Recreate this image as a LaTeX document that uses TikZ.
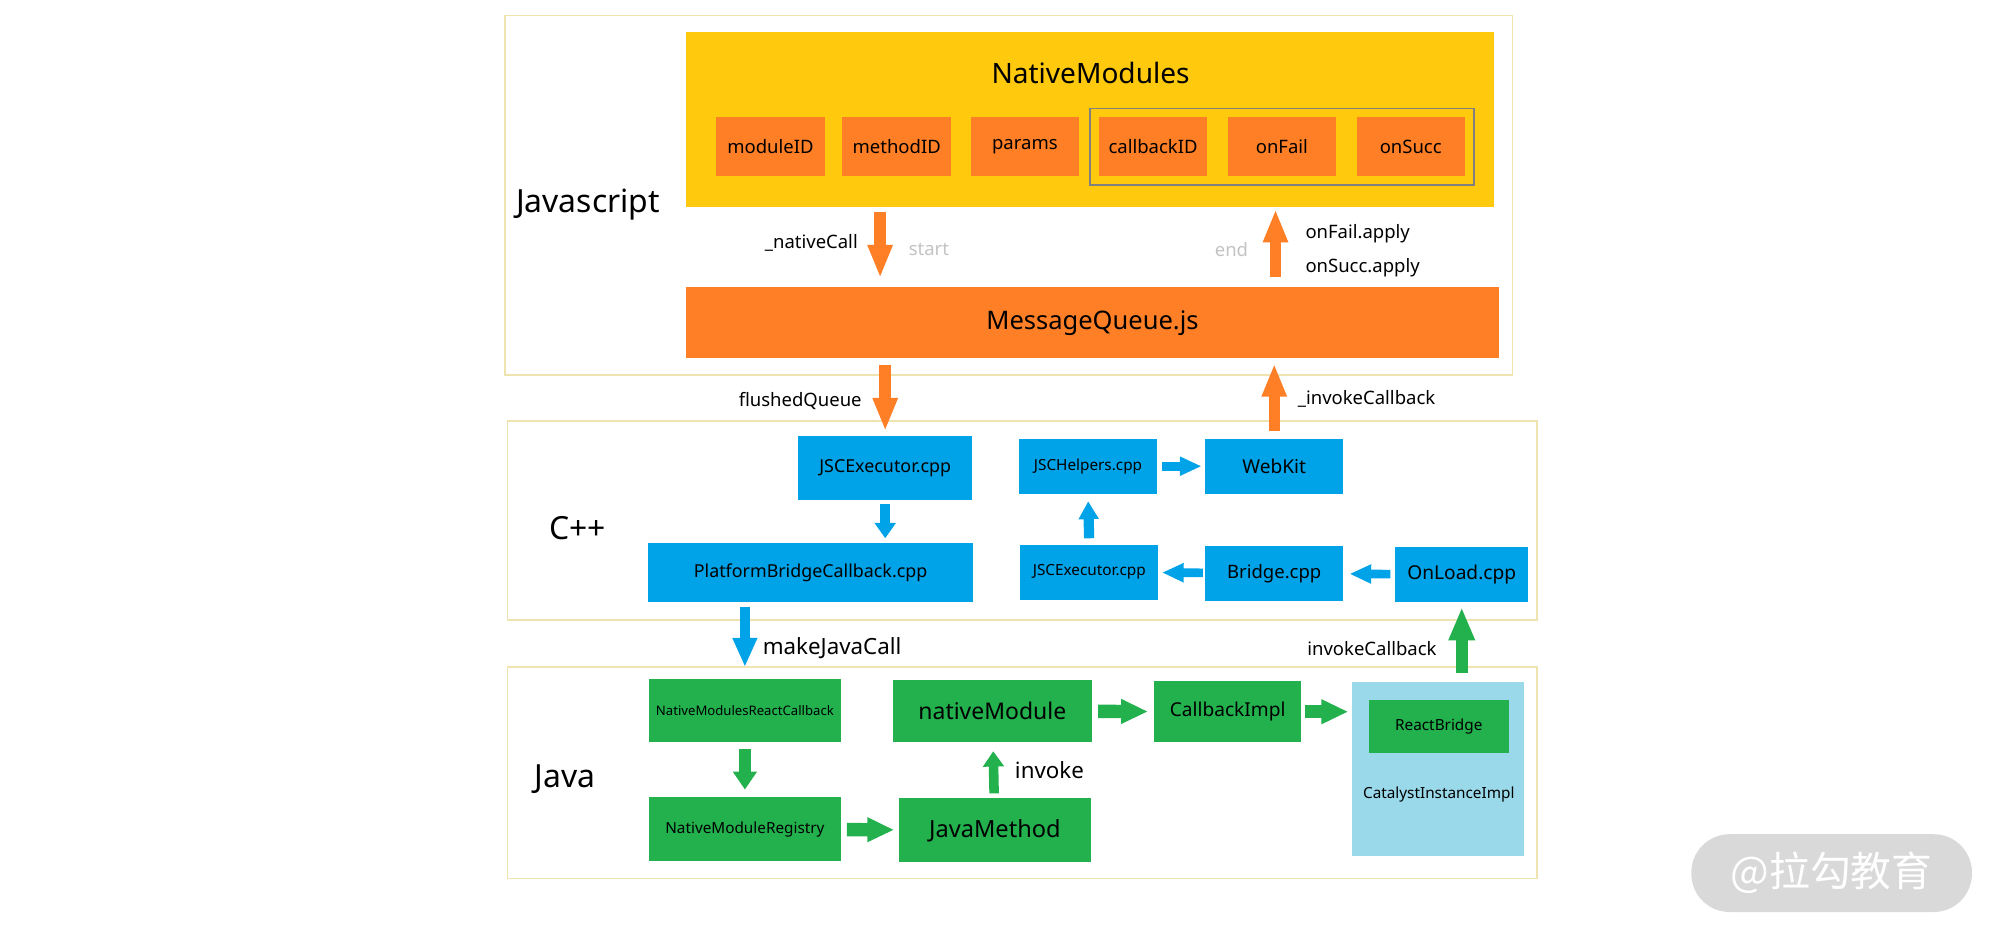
\documentclass[tikz,border=0pt]{standalone}
\usepackage{fontspec}
\setmainfont{Noto Sans}
\newfontfamily\cjk{Noto Sans CJK SC}
\usetikzlibrary{arrows.meta,fit}

\definecolor{jsyellow}{HTML}{FFC90E}
\definecolor{jsorange}{HTML}{FF7F27}
\definecolor{cppblue}{HTML}{00A2E8}
\definecolor{javagreen}{HTML}{22B14C}
\definecolor{catblue}{HTML}{99D9EA}
\definecolor{framey}{HTML}{EFE4B0}
\definecolor{hintgray}{HTML}{C3C3C3}
\definecolor{markgray}{HTML}{D9D9D9}

\tikzset{
  fs/.style={font=\fontsize{#1}{#1}\selectfont},
  sz/.style 2 args={minimum width=#1pt, minimum height=#2pt},
  cell/.style={inner sep=0pt, outer sep=0pt},
  field/.style={cell, fill=jsorange, sz={85}{46}, fs=14.5},
  bbox/.style={cell, fill=cppblue},
  gbox/.style={cell, fill=javagreen},
  frame/.style={draw=framey, line width=1pt},
  lab/.style={inner sep=0pt, fs=14.5},
  tipsize/.style 2 args={-{Triangle[width=#1pt, length=#2pt]}},
  oarr/.style={draw=jsorange, line width=9pt, tipsize={18}{26}},
  barr/.style={draw=cppblue, line width=7.5pt, tipsize={16}{12}},
  garr/.style={draw=javagreen, line width=9pt, tipsize={18}{14}}
}

\begin{document}
\begin{tikzpicture}[x=1pt, y=-1pt]
\path [fill=white, use as bounding box] (0,0) rectangle (1568,737);

% layers
\draw [frame] (396,12) rectangle (1186,294);
\draw [frame] (398,330) rectangle (1205,486);
\draw [frame] (398,523) rectangle (1205,689);
\node [lab, fs=25] (js-label) at (461,160) {Javascript};
\node [lab, fs=25] (cpp-label) at (453,414) {C++};
\node [lab, fs=25] (java-label) at (443,611) {Java};

% Javascript
\node [cell, fill=jsyellow, sz={633}{137}] (nm) at (854.5,93.5) {};
\node [lab, fs=22] (nm-title) at (855,57) {NativeModules};
\foreach \m/\x [count=\i] in {moduleID/604, methodID/703, params/803.5, callbackID/904, onFail/1005, onSucc/1106}
  \node [field] (field-\i) at (\x,115) {\m};
\node [draw=gray, line width=1pt, inner sep=7pt, fit=(field-4) (field-6)] (cb-group) {};
\node [cell, fill=jsorange, sz={637}{56}, fs=20] (mq) at (856.5,253) {MessageQueue.js};

\draw [oarr, shorten <=4pt, shorten >=7pt] (690,0 |- nm.south) -- (690,0 |- mq.north)
  node [lab, midway, anchor=east, xshift=-13pt, yshift=3pt] {\_nativeCall}
  node [lab, midway, anchor=west, xshift=18pt, yshift=-2pt, text=hintgray] {start};
\draw [oarr, shorten <=8pt, shorten >=2pt] (1000,0 |- mq.north) -- (1000,0 |- nm.south)
  node [lab, midway, anchor=east, xshift=-17pt, yshift=-2pt, text=hintgray] {end}
  node [lab, midway, anchor=west, xshift=19pt, yshift=10pt] {onFail.apply}
  node [lab, midway, anchor=west, xshift=19pt, yshift=-16pt] {onSucc.apply};

% C++
\node [bbox, sz={136}{50}, fs=14] (jsc-top) at (694,367) {JSCExecutor.cpp};
\node [bbox, sz={255}{46}, fs=14] (pbc) at (635.5,449) {PlatformBridgeCallback.cpp};
\node [bbox, sz={108}{43}, fs=12] (jsh) at (853,365.5) {JSCHelpers.cpp};
\node [bbox, sz={108}{43}, fs=15] (webkit) at (999,365.5) {WebKit};
\node [bbox, sz={108}{43}, fs=12] (jsc-bot) at (854,448.5) {JSCExecutor.cpp};
\node [bbox, sz={108}{43}, fs=14.5] (bridge) at (999,449.5) {Bridge.cpp};
\node [bbox, sz={104}{43}, fs=15] (onload) at (1146,450.5) {OnLoad.cpp};

\draw [oarr, shorten <=5pt, shorten >=4pt] (jsc-top.north |- mq.south) -- (jsc-top.north)
  node [lab, midway, anchor=east, xshift=-14pt, yshift=-3pt] {flushedQueue};
\draw [oarr, shorten <=6pt, shorten >=4pt] (webkit.north) -- (webkit.north |- mq.south)
  node [lab, midway, anchor=west, xshift=14pt] {\_invokeCallback};
\draw [barr, shorten <=3pt, shorten >=4pt] (jsc-top.south) -- (jsc-top.south |- pbc.north);
\draw [barr, line width=8pt, tipsize={15}{14}, shorten <=5pt, shorten >=6pt] (jsc-bot.north) -- (jsh.south);
\foreach \a/\b/\s/\t in {jsh/webkit/4/3, bridge/jsc-bot/2/3, onload/bridge/4/5}
  \draw [barr, line width=6.8pt, tipsize={14}{17}, shorten <=\s pt, shorten >=\t pt] (\a) -- (\b);

% Java
\node [gbox, sz={150}{50}, fs=10.3] (nmrc) at (584,557) {NativeModulesReactCallback};
\node [gbox, sz={156}{49}, fs=18] (nmod) at (778,557.5) {nativeModule};
\node [gbox, sz={115}{48}, fs=15] (cbi) at (962.5,558) {CallbackImpl};
\node [cell, fill=catblue, sz={135}{136}] (cat) at (1127.5,603) {};
\node [gbox, sz={110}{41}, fs=12] (rb) at (1128,569.5) {ReactBridge};
\node [lab, fs=12] (cat-title) at (1128,623) {CatalystInstanceImpl};
\node [gbox, sz={150}{50}, fs=12] (reg) at (584,650) {NativeModuleRegistry};
\node [gbox, sz={150}{50}, fs=18.5] (javam) at (780,651) {JavaMethod};

\draw [barr, line width=8pt, tipsize={18}{23}, shorten <=4pt, shorten >=9pt] (nmrc.north |- pbc.south) -- (nmrc.north)
  node [lab, fs=17.5, midway, anchor=west, xshift=10pt, yshift=-6pt] {makeJavaCall};
\draw [garr, line width=9.5pt, tipsize={19}{26}, shorten <=7pt, shorten >=4pt] (onload.south |- cat.north) -- (onload.south)
  node [lab, midway, anchor=east, xshift=-15pt, yshift=-5pt] {invokeCallback};
\draw [garr, shorten <=5pt, shorten >=6pt] (nmrc) -- (reg);
\draw [garr, line width=7.5pt, tipsize={16}{12}, shorten <=4pt, shorten >=7pt] (javam) -- (nmod)
  node [lab, fs=17.5, midway, anchor=west, xshift=13pt] {invoke};
\foreach \a/\b/\s/\t in {reg/javam/5/4, nmod/cbi/5/5}
  \draw [garr, line width=10.5pt, tipsize={18}{21}, shorten <=\s pt, shorten >=\t pt] (\a) -- (\b);
\draw [garr, line width=10.5pt, tipsize={18}{21}, shorten <=3pt, shorten >=3pt] (cbi.east) -- (cbi.east -| cat.west);

% watermark
\node [fill=markgray, rounded corners=30pt, sz={220}{61}, inner sep=0pt, text=white, fs=32] (mark) at (1436,684.5) {\cjk @拉勾教育};
\end{tikzpicture}
\end{document}
